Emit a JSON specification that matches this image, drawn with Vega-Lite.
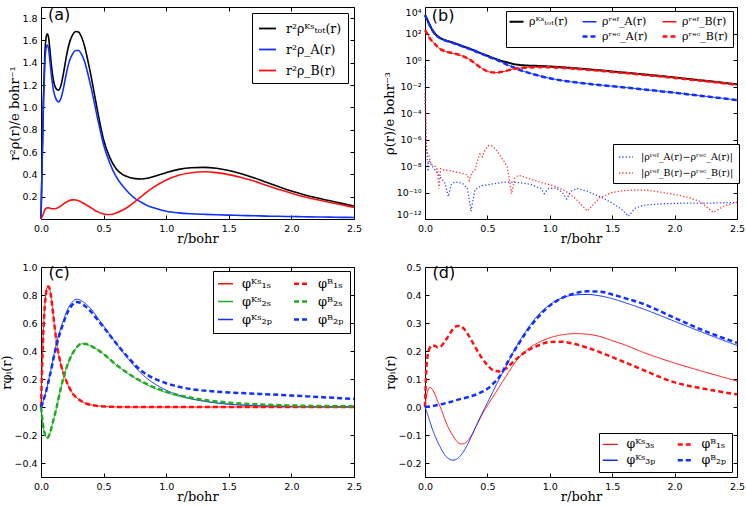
{
"$schema": "https://vega.github.io/schema/vega-lite/v6.json",
"padding": {"left": 0, "top": 6, "right": 0, "bottom": 0},
"background": "white",
"config": {
  "view": {"stroke": "black", "strokeWidth": 1},
  "axis": {"domain": false, "grid": false, "tickColor": "black", "tickSize": -4, "tickWidth": 1, "labelFont": "DejaVu Sans", "labelFontSize": 9.5, "labelColor": "black", "labelPadding": 8, "labelFlush": false, "labelOverlap": false, "titleFont": "DejaVu Serif", "titleFontSize": 13, "titleFontWeight": "normal", "titleColor": "black", "titlePadding": 0},
  "legend": {"strokeColor": "black", "fillColor": "white", "padding": 6, "labelFont": "DejaVu Serif", "labelFontSize": 13, "labelColor": "black", "symbolType": "stroke", "cornerRadius": 0}
},
"resolve": {"scale": {"color": "independent", "strokeDash": "independent"}},
"datasets": {
"a": [
{"r":0,"tot":0,"A":0,"B":0},
{"r":0.01,"tot":0.57,"A":0.55,"B":0.02},
{"r":0.02,"tot":1.1,"A":1.05,"B":0.05},
{"r":0.03,"tot":1.46,"A":1.38,"B":0.08},
{"r":0.04,"tot":1.62,"A":1.53,"B":0.095},
{"r":0.05,"tot":1.66,"A":1.56,"B":0.1},
{"r":0.06,"tot":1.63,"A":1.53,"B":0.1},
{"r":0.07,"tot":1.53,"A":1.43,"B":0.097},
{"r":0.08,"tot":1.41,"A":1.32,"B":0.094},
{"r":0.1,"tot":1.24,"A":1.15,"B":0.092},
{"r":0.12,"tot":1.17,"A":1.075,"B":0.094},
{"r":0.14,"tot":1.155,"A":1.05,"B":0.104},
{"r":0.16,"tot":1.2,"A":1.085,"B":0.118},
{"r":0.18,"tot":1.31,"A":1.175,"B":0.135},
{"r":0.2,"tot":1.44,"A":1.29,"B":0.15},
{"r":0.22,"tot":1.55,"A":1.39,"B":0.162},
{"r":0.25,"tot":1.645,"A":1.475,"B":0.171},
{"r":0.28,"tot":1.68,"A":1.51,"B":0.17},
{"r":0.3,"tot":1.675,"A":1.51,"B":0.163},
{"r":0.32,"tot":1.64,"A":1.485,"B":0.153},
{"r":0.35,"tot":1.54,"A":1.405,"B":0.135},
{"r":0.38,"tot":1.39,"A":1.275,"B":0.114},
{"r":0.4,"tot":1.28,"A":1.18,"B":0.1},
{"r":0.42,"tot":1.16,"A":1.075,"B":0.085},
{"r":0.45,"tot":0.98,"A":0.91,"B":0.066},
{"r":0.48,"tot":0.81,"A":0.76,"B":0.052},
{"r":0.5,"tot":0.71,"A":0.665,"B":0.045},
{"r":0.55,"tot":0.55,"A":0.5,"B":0.04},
{"r":0.6,"tot":0.45,"A":0.38,"B":0.053},
{"r":0.65,"tot":0.4,"A":0.3,"B":0.078},
{"r":0.7,"tot":0.375,"A":0.235,"B":0.112},
{"r":0.75,"tot":0.362,"A":0.185,"B":0.155},
{"r":0.8,"tot":0.358,"A":0.15,"B":0.2},
{"r":0.85,"tot":0.365,"A":0.12,"B":0.245},
{"r":0.9,"tot":0.38,"A":0.1,"B":0.285},
{"r":1.0,"tot":0.415,"A":0.07,"B":0.35},
{"r":1.1,"tot":0.445,"A":0.055,"B":0.393},
{"r":1.2,"tot":0.46,"A":0.047,"B":0.415},
{"r":1.3,"tot":0.463,"A":0.042,"B":0.423},
{"r":1.4,"tot":0.455,"A":0.038,"B":0.416},
{"r":1.5,"tot":0.435,"A":0.035,"B":0.398},
{"r":1.6,"tot":0.405,"A":0.032,"B":0.372},
{"r":1.7,"tot":0.37,"A":0.029,"B":0.34},
{"r":1.8,"tot":0.33,"A":0.026,"B":0.302},
{"r":1.9,"tot":0.29,"A":0.024,"B":0.265},
{"r":2.0,"tot":0.25,"A":0.022,"B":0.23},
{"r":2.1,"tot":0.218,"A":0.02,"B":0.2},
{"r":2.2,"tot":0.19,"A":0.018,"B":0.174},
{"r":2.3,"tot":0.165,"A":0.017,"B":0.15},
{"r":2.4,"tot":0.14,"A":0.015,"B":0.127},
{"r":2.5,"tot":0.117,"A":0.014,"B":0.104}
],
"b": [
{"r":0,"tot":2500,"Aref":2400,"Arec":2400,"Bref":178,"Brec":178},
{"r":0.02,"tot":1000,"Aref":955,"Arec":955,"Bref":89,"Brec":89},
{"r":0.04,"tot":398,"Aref":380,"Arec":380,"Bref":41.7,"Brec":41.7},
{"r":0.06,"tot":178,"Aref":170,"Arec":170,"Bref":24,"Brec":24},
{"r":0.08,"tot":95.5,"Aref":91.2,"Arec":91.2,"Bref":15.8,"Brec":15.8},
{"r":0.1,"tot":63.1,"Aref":60.3,"Arec":60.3,"Bref":10,"Brec":10},
{"r":0.13,"tot":41.7,"Aref":39.8,"Arec":39.8,"Bref":6.03,"Brec":6.03},
{"r":0.16,"tot":31.6,"Aref":30.2,"Arec":30.2,"Bref":4.57,"Brec":4.57},
{"r":0.2,"tot":24,"Aref":22.9,"Arec":22.9,"Bref":3.63,"Brec":3.63},
{"r":0.25,"tot":16.6,"Aref":15.8,"Arec":15.8,"Bref":2.82,"Brec":2.82},
{"r":0.3,"tot":11.2,"Aref":10.7,"Arec":10.7,"Bref":2,"Brec":2},
{"r":0.35,"tot":7.59,"Aref":7.24,"Arec":7.24,"Bref":1.2,"Brec":1.2},
{"r":0.4,"tot":5.01,"Aref":4.79,"Arec":4.79,"Bref":0.562,"Brec":0.562},
{"r":0.45,"tot":3.16,"Aref":3.02,"Arec":3.02,"Bref":0.251,"Brec":0.251},
{"r":0.5,"tot":2.09,"Aref":1.91,"Arec":1.91,"Bref":0.141,"Brec":0.141},
{"r":0.55,"tot":1.38,"Aref":1.26,"Arec":1.26,"Bref":0.112,"Brec":0.112},
{"r":0.6,"tot":0.955,"Aref":0.794,"Arec":0.794,"Bref":0.12,"Brec":0.12},
{"r":0.65,"tot":0.692,"Aref":0.479,"Arec":0.479,"Bref":0.151,"Brec":0.151},
{"r":0.7,"tot":0.525,"Aref":0.302,"Arec":0.302,"Bref":0.2,"Brec":0.2},
{"r":0.75,"tot":0.43,"Aref":0.191,"Arec":0.191,"Bref":0.24,"Brec":0.24},
{"r":0.8,"tot":0.39,"Aref":0.132,"Arec":0.132,"Bref":0.26,"Brec":0.26},
{"r":0.9,"tot":0.36,"Aref":0.0708,"Arec":0.0708,"Bref":0.29,"Brec":0.29},
{"r":1.0,"tot":0.322,"Aref":0.0417,"Arec":0.0417,"Bref":0.28,"Brec":0.28},
{"r":1.1,"tot":0.283,"Aref":0.0282,"Arec":0.0282,"Bref":0.255,"Brec":0.255},
{"r":1.2,"tot":0.241,"Aref":0.0209,"Arec":0.0209,"Bref":0.22,"Brec":0.22},
{"r":1.3,"tot":0.201,"Aref":0.0162,"Arec":0.0162,"Bref":0.185,"Brec":0.185},
{"r":1.4,"tot":0.168,"Aref":0.0129,"Arec":0.0129,"Bref":0.155,"Brec":0.155},
{"r":1.5,"tot":0.136,"Aref":0.0105,"Arec":0.0105,"Bref":0.126,"Brec":0.126},
{"r":1.6,"tot":0.112,"Aref":0.00851,"Arec":0.00851,"Bref":0.104,"Brec":0.104},
{"r":1.7,"tot":0.0912,"Aref":0.00676,"Arec":0.00676,"Bref":0.085,"Brec":0.085},
{"r":1.8,"tot":0.0741,"Aref":0.00537,"Arec":0.00537,"Bref":0.069,"Brec":0.069},
{"r":1.9,"tot":0.0603,"Aref":0.00427,"Arec":0.00427,"Bref":0.056,"Brec":0.056},
{"r":2.0,"tot":0.0479,"Aref":0.00339,"Arec":0.00339,"Bref":0.0445,"Brec":0.0445},
{"r":2.1,"tot":0.038,"Aref":0.00263,"Arec":0.00263,"Bref":0.0353,"Brec":0.0353},
{"r":2.2,"tot":0.0302,"Aref":0.00204,"Arec":0.00204,"Bref":0.0281,"Brec":0.0281},
{"r":2.3,"tot":0.024,"Aref":0.00158,"Arec":0.00158,"Bref":0.0223,"Brec":0.0223},
{"r":2.4,"tot":0.0186,"Aref":0.00123,"Arec":0.00123,"Bref":0.0173,"Brec":0.0173},
{"r":2.5,"tot":0.0145,"Aref":0.000933,"Arec":0.000933,"Bref":0.0135,"Brec":0.0135}
],
"bd": [
{"d":"dA","r":0,"v":0.316},
{"d":"dA","r":0.004,"v":3.16e-4},
{"d":"dA","r":0.008,"v":3.16e-6},
{"d":"dA","r":0.012,"v":2.5e-7},
{"d":"dA","r":0.018,"v":4e-8},
{"d":"dA","r":0.024,"v":4e-9},
{"d":"dA","r":0.03,"v":2.5e-8},
{"d":"dA","r":0.05,"v":1.26e-8},
{"d":"dA","r":0.08,"v":5e-9},
{"d":"dA","r":0.12,"v":1.6e-9},
{"d":"dA","r":0.16,"v":5e-10},
{"d":"dA","r":0.187,"v":5e-11},
{"d":"dA","r":0.21,"v":4e-10},
{"d":"dA","r":0.24,"v":6.3e-10},
{"d":"dA","r":0.3,"v":5e-10},
{"d":"dA","r":0.34,"v":2e-10},
{"d":"dA","r":0.369,"v":4e-12},
{"d":"dA","r":0.4,"v":1.6e-10},
{"d":"dA","r":0.45,"v":3.2e-10},
{"d":"dA","r":0.55,"v":4.5e-10},
{"d":"dA","r":0.65,"v":6.3e-10},
{"d":"dA","r":0.75,"v":5.6e-10},
{"d":"dA","r":0.85,"v":4e-10},
{"d":"dA","r":0.93,"v":2e-10},
{"d":"dA","r":0.955,"v":8e-11},
{"d":"dA","r":0.99,"v":2e-10},
{"d":"dA","r":1.05,"v":2.2e-10},
{"d":"dA","r":1.1,"v":1e-10},
{"d":"dA","r":1.135,"v":3.2e-11},
{"d":"dA","r":1.17,"v":1.26e-10},
{"d":"dA","r":1.22,"v":2e-10},
{"d":"dA","r":1.3,"v":1.26e-10},
{"d":"dA","r":1.4,"v":5e-11},
{"d":"dA","r":1.5,"v":1.6e-11},
{"d":"dA","r":1.58,"v":5e-12},
{"d":"dA","r":1.63,"v":1.6e-12},
{"d":"dA","r":1.68,"v":6.3e-12},
{"d":"dA","r":1.75,"v":1.1e-11},
{"d":"dA","r":1.9,"v":1.4e-11},
{"d":"dA","r":2.1,"v":1.6e-11},
{"d":"dA","r":2.3,"v":1.6e-11},
{"d":"dA","r":2.5,"v":1.8e-11},
{"d":"dB","r":0,"v":3.16e-3},
{"d":"dB","r":0.004,"v":3.16e-5},
{"d":"dB","r":0.008,"v":1e-6},
{"d":"dB","r":0.015,"v":1.26e-7},
{"d":"dB","r":0.03,"v":6.3e-8},
{"d":"dB","r":0.05,"v":1.26e-8},
{"d":"dB","r":0.08,"v":1e-8},
{"d":"dB","r":0.1,"v":5e-9},
{"d":"dB","r":0.112,"v":2e-10},
{"d":"dB","r":0.125,"v":6.3e-9},
{"d":"dB","r":0.15,"v":5e-9},
{"d":"dB","r":0.2,"v":4.5e-9},
{"d":"dB","r":0.25,"v":3.5e-9},
{"d":"dB","r":0.3,"v":2.8e-9},
{"d":"dB","r":0.34,"v":2e-9},
{"d":"dB","r":0.355,"v":8e-10},
{"d":"dB","r":0.375,"v":3.2e-9},
{"d":"dB","r":0.4,"v":5e-9},
{"d":"dB","r":0.42,"v":2.5e-8},
{"d":"dB","r":0.44,"v":8e-8},
{"d":"dB","r":0.46,"v":5e-8},
{"d":"dB","r":0.48,"v":1.6e-7},
{"d":"dB","r":0.51,"v":3.5e-7},
{"d":"dB","r":0.54,"v":3.2e-7},
{"d":"dB","r":0.56,"v":2e-7},
{"d":"dB","r":0.58,"v":1.26e-7},
{"d":"dB","r":0.6,"v":6.3e-8},
{"d":"dB","r":0.63,"v":2.5e-8},
{"d":"dB","r":0.66,"v":8e-9},
{"d":"dB","r":0.694,"v":8e-11},
{"d":"dB","r":0.72,"v":1.26e-9},
{"d":"dB","r":0.75,"v":2e-9},
{"d":"dB","r":0.85,"v":1e-9},
{"d":"dB","r":0.95,"v":5e-10},
{"d":"dB","r":1.05,"v":2.8e-10},
{"d":"dB","r":1.12,"v":1.4e-10},
{"d":"dB","r":1.2,"v":4e-11},
{"d":"dB","r":1.3,"v":4e-12},
{"d":"dB","r":1.4,"v":4e-11},
{"d":"dB","r":1.5,"v":1e-10},
{"d":"dB","r":1.6,"v":1.4e-10},
{"d":"dB","r":1.7,"v":1.6e-10},
{"d":"dB","r":1.8,"v":1.4e-10},
{"d":"dB","r":1.9,"v":1e-10},
{"d":"dB","r":2.0,"v":7e-11},
{"d":"dB","r":2.1,"v":4.5e-11},
{"d":"dB","r":2.2,"v":2.2e-11},
{"d":"dB","r":2.31,"v":3.2e-12},
{"d":"dB","r":2.4,"v":1e-11},
{"d":"dB","r":2.5,"v":1.8e-11}
],
"c": [
{"r":0,"s1KS":0,"s2KS":0,"p2KS":0,"s1B":0,"s2B":0,"p2B":0},
{"r":0.01,"s1KS":0.32,"s2KS":-0.08,"p2KS":0.02,"s1B":0.32,"s2B":-0.08,"p2B":0.02},
{"r":0.02,"s1KS":0.56,"s2KS":-0.15,"p2KS":0.05,"s1B":0.56,"s2B":-0.15,"p2B":0.048},
{"r":0.03,"s1KS":0.72,"s2KS":-0.19,"p2KS":0.08,"s1B":0.72,"s2B":-0.19,"p2B":0.077},
{"r":0.04,"s1KS":0.81,"s2KS":-0.213,"p2KS":0.115,"s1B":0.81,"s2B":-0.213,"p2B":0.11},
{"r":0.05,"s1KS":0.855,"s2KS":-0.222,"p2KS":0.15,"s1B":0.855,"s2B":-0.222,"p2B":0.145},
{"r":0.06,"s1KS":0.86,"s2KS":-0.212,"p2KS":0.19,"s1B":0.86,"s2B":-0.212,"p2B":0.183},
{"r":0.07,"s1KS":0.84,"s2KS":-0.19,"p2KS":0.23,"s1B":0.84,"s2B":-0.19,"p2B":0.222},
{"r":0.08,"s1KS":0.79,"s2KS":-0.16,"p2KS":0.27,"s1B":0.79,"s2B":-0.16,"p2B":0.26},
{"r":0.1,"s1KS":0.64,"s2KS":-0.09,"p2KS":0.36,"s1B":0.64,"s2B":-0.09,"p2B":0.348},
{"r":0.12,"s1KS":0.49,"s2KS":-0.02,"p2KS":0.44,"s1B":0.49,"s2B":-0.02,"p2B":0.425},
{"r":0.14,"s1KS":0.38,"s2KS":0.06,"p2KS":0.51,"s1B":0.38,"s2B":0.06,"p2B":0.493},
{"r":0.16,"s1KS":0.3,"s2KS":0.14,"p2KS":0.57,"s1B":0.3,"s2B":0.14,"p2B":0.552},
{"r":0.18,"s1KS":0.24,"s2KS":0.21,"p2KS":0.62,"s1B":0.24,"s2B":0.21,"p2B":0.602},
{"r":0.2,"s1KS":0.19,"s2KS":0.27,"p2KS":0.67,"s1B":0.19,"s2B":0.27,"p2B":0.65},
{"r":0.22,"s1KS":0.15,"s2KS":0.32,"p2KS":0.71,"s1B":0.15,"s2B":0.32,"p2B":0.69},
{"r":0.25,"s1KS":0.1,"s2KS":0.38,"p2KS":0.75,"s1B":0.1,"s2B":0.38,"p2B":0.73},
{"r":0.28,"s1KS":0.07,"s2KS":0.42,"p2KS":0.77,"s1B":0.07,"s2B":0.42,"p2B":0.75},
{"r":0.3,"s1KS":0.055,"s2KS":0.44,"p2KS":0.768,"s1B":0.055,"s2B":0.44,"p2B":0.748},
{"r":0.33,"s1KS":0.038,"s2KS":0.452,"p2KS":0.755,"s1B":0.038,"s2B":0.452,"p2B":0.735},
{"r":0.36,"s1KS":0.025,"s2KS":0.45,"p2KS":0.735,"s1B":0.025,"s2B":0.45,"p2B":0.715},
{"r":0.4,"s1KS":0.015,"s2KS":0.435,"p2KS":0.7,"s1B":0.015,"s2B":0.435,"p2B":0.68},
{"r":0.45,"s1KS":0.008,"s2KS":0.41,"p2KS":0.64,"s1B":0.008,"s2B":0.41,"p2B":0.625},
{"r":0.5,"s1KS":0.004,"s2KS":0.378,"p2KS":0.58,"s1B":0.004,"s2B":0.378,"p2B":0.57},
{"r":0.6,"s1KS":0.001,"s2KS":0.3,"p2KS":0.455,"s1B":0.001,"s2B":0.302,"p2B":0.455},
{"r":0.7,"s1KS":0,"s2KS":0.235,"p2KS":0.34,"s1B":0,"s2B":0.238,"p2B":0.35},
{"r":0.8,"s1KS":0,"s2KS":0.18,"p2KS":0.24,"s1B":0,"s2B":0.184,"p2B":0.26},
{"r":0.9,"s1KS":0,"s2KS":0.137,"p2KS":0.17,"s1B":0,"s2B":0.142,"p2B":0.205},
{"r":1.0,"s1KS":0,"s2KS":0.103,"p2KS":0.12,"s1B":0,"s2B":0.11,"p2B":0.17},
{"r":1.1,"s1KS":0,"s2KS":0.077,"p2KS":0.085,"s1B":0,"s2B":0.085,"p2B":0.145},
{"r":1.2,"s1KS":0,"s2KS":0.057,"p2KS":0.06,"s1B":0,"s2B":0.066,"p2B":0.128},
{"r":1.3,"s1KS":0,"s2KS":0.042,"p2KS":0.042,"s1B":0,"s2B":0.051,"p2B":0.117},
{"r":1.4,"s1KS":0,"s2KS":0.03,"p2KS":0.029,"s1B":0,"s2B":0.04,"p2B":0.11},
{"r":1.5,"s1KS":0,"s2KS":0.021,"p2KS":0.02,"s1B":0,"s2B":0.031,"p2B":0.104},
{"r":1.75,"s1KS":0,"s2KS":0.01,"p2KS":0.008,"s1B":0,"s2B":0.018,"p2B":0.093},
{"r":2.0,"s1KS":0,"s2KS":0.005,"p2KS":0.003,"s1B":0,"s2B":0.011,"p2B":0.082},
{"r":2.25,"s1KS":0,"s2KS":0.002,"p2KS":0.001,"s1B":0,"s2B":0.007,"p2B":0.07},
{"r":2.5,"s1KS":0,"s2KS":0.001,"p2KS":0,"s1B":0,"s2B":0.005,"p2B":0.058}
],
"d": [
{"r":0,"s3KS":0,"p3KS":0,"s1B":0,"p2B":0},
{"r":0.01,"s3KS":0.035,"p3KS":-0.012,"s1B":0.13,"p2B":0.0005},
{"r":0.02,"s3KS":0.055,"p3KS":-0.025,"s1B":0.18,"p2B":0.001},
{"r":0.04,"s3KS":0.07,"p3KS":-0.053,"s1B":0.212,"p2B":0.002},
{"r":0.06,"s3KS":0.062,"p3KS":-0.08,"s1B":0.22,"p2B":0.003},
{"r":0.08,"s3KS":0.045,"p3KS":-0.103,"s1B":0.218,"p2B":0.005},
{"r":0.1,"s3KS":0.022,"p3KS":-0.123,"s1B":0.213,"p2B":0.007},
{"r":0.13,"s3KS":-0.008,"p3KS":-0.15,"s1B":0.218,"p2B":0.01},
{"r":0.16,"s3KS":-0.045,"p3KS":-0.172,"s1B":0.235,"p2B":0.013},
{"r":0.2,"s3KS":-0.085,"p3KS":-0.187,"s1B":0.262,"p2B":0.018},
{"r":0.22,"s3KS":-0.1,"p3KS":-0.19,"s1B":0.276,"p2B":0.02},
{"r":0.25,"s3KS":-0.12,"p3KS":-0.187,"s1B":0.288,"p2B":0.024},
{"r":0.28,"s3KS":-0.131,"p3KS":-0.176,"s1B":0.29,"p2B":0.028},
{"r":0.3,"s3KS":-0.132,"p3KS":-0.165,"s1B":0.285,"p2B":0.03},
{"r":0.34,"s3KS":-0.122,"p3KS":-0.135,"s1B":0.262,"p2B":0.035},
{"r":0.38,"s3KS":-0.095,"p3KS":-0.097,"s1B":0.232,"p2B":0.04},
{"r":0.42,"s3KS":-0.06,"p3KS":-0.058,"s1B":0.2,"p2B":0.047},
{"r":0.46,"s3KS":-0.025,"p3KS":-0.02,"s1B":0.172,"p2B":0.055},
{"r":0.5,"s3KS":0.005,"p3KS":0.015,"s1B":0.15,"p2B":0.065},
{"r":0.55,"s3KS":0.04,"p3KS":0.06,"s1B":0.13,"p2B":0.085},
{"r":0.6,"s3KS":0.075,"p3KS":0.105,"s1B":0.127,"p2B":0.11},
{"r":0.65,"s3KS":0.11,"p3KS":0.145,"s1B":0.138,"p2B":0.15},
{"r":0.7,"s3KS":0.145,"p3KS":0.19,"s1B":0.158,"p2B":0.19},
{"r":0.75,"s3KS":0.175,"p3KS":0.23,"s1B":0.178,"p2B":0.225},
{"r":0.8,"s3KS":0.198,"p3KS":0.265,"s1B":0.195,"p2B":0.26},
{"r":0.9,"s3KS":0.228,"p3KS":0.325,"s1B":0.218,"p2B":0.318},
{"r":1.0,"s3KS":0.247,"p3KS":0.365,"s1B":0.232,"p2B":0.362},
{"r":1.1,"s3KS":0.258,"p3KS":0.39,"s1B":0.233,"p2B":0.39},
{"r":1.2,"s3KS":0.262,"p3KS":0.4,"s1B":0.225,"p2B":0.406},
{"r":1.3,"s3KS":0.26,"p3KS":0.402,"s1B":0.212,"p2B":0.413},
{"r":1.4,"s3KS":0.252,"p3KS":0.397,"s1B":0.196,"p2B":0.412},
{"r":1.5,"s3KS":0.237,"p3KS":0.387,"s1B":0.178,"p2B":0.402},
{"r":1.6,"s3KS":0.222,"p3KS":0.373,"s1B":0.16,"p2B":0.389},
{"r":1.75,"s3KS":0.195,"p3KS":0.35,"s1B":0.132,"p2B":0.368},
{"r":2.0,"s3KS":0.157,"p3KS":0.306,"s1B":0.088,"p2B":0.318},
{"r":2.25,"s3KS":0.124,"p3KS":0.262,"s1B":0.064,"p2B":0.27},
{"r":2.5,"s3KS":0.093,"p3KS":0.22,"s1B":0.045,"p2B":0.229}
]
},
"columns": 2,
"spacing": {"row": 48, "column": 71},
"bounds": "flush",
"align": "each",
"concat": [
{
 "width": 313, "height": 212,
 "layer": [
  {
   "data": {"name": "a"},
   "transform": [{"fold": ["tot", "A", "B"], "as": ["s", "v"]}],
   "mark": {"type": "line", "strokeWidth": 1.6, "interpolate": "monotone"},
   "encoding": {
    "x": {"field": "r", "type": "quantitative", "scale": {"domain": [0, 2.5]}, "axis": {"values": [0, 0.5, 1, 1.5, 2, 2.5], "format": ".1f", "title": "r/bohr"}},
    "y": {"field": "v", "type": "quantitative", "scale": {"domain": [0, 1.9]}, "axis": {"values": [0.2, 0.4, 0.6, 0.8, 1, 1.2, 1.4, 1.6, 1.8], "format": ".1f", "title": "r²ρ(r)/e bohr⁻¹"}},
    "color": {"field": "s", "type": "nominal", "scale": {"domain": ["tot", "A", "B"], "range": ["#000000", "#1030ff", "#ff1010"]},
     "legend": {"title": null, "orient": "top-right", "offset": 6, "padding": 6, "symbolSize": 289, "symbolStrokeWidth": 1.8, "labelOffset": 9, "rowPadding": 5, "labelFontSize": 12.5,
      "labelExpr": "datum.label == 'tot' ? 'r²ρᴷˢₜₒₜ(r)' : datum.label == 'A' ? 'r²ρ_A(r)' : 'r²ρ_B(r)'"}}
   }
  },
  {
   "data": {"values": [{"label": "(a)"}]},
   "mark": {"type": "text", "align": "left", "baseline": "middle", "fontSize": 16, "font": "DejaVu Sans", "color": "black"},
   "encoding": {
    "x": {"datum": 0.055, "type": "quantitative", "scale": {"domain": [0, 2.5]}, "axis": {"orient": "top", "labels": false, "title": null, "values": [0, 0.5, 1, 1.5, 2, 2.5]}},
    "y": {"datum": 1.83, "type": "quantitative", "scale": {"domain": [0, 1.9]}, "axis": {"orient": "right", "labels": false, "title": null, "values": [0.2, 0.4, 0.6, 0.8, 1, 1.2, 1.4, 1.6, 1.8]}},
    "text": {"field": "label"}
   }
  }
 ],
 "resolve": {"axis": {"x": "independent", "y": "independent"}}
},
{
 "width": 312, "height": 212,
 "layer": [
  {
   "data": {"name": "b"},
   "transform": [{"fold": ["tot", "Aref", "Arec", "Bref", "Brec"], "as": ["s", "v"]}],
   "mark": {"type": "line", "interpolate": "monotone"},
   "encoding": {
    "x": {"field": "r", "type": "quantitative", "scale": {"domain": [0, 2.5]}, "axis": {"values": [0, 0.5, 1, 1.5, 2, 2.5], "format": ".1f", "title": "r/bohr"}},
    "y": {"field": "v", "type": "quantitative", "scale": {"type": "log", "domain": [1e-12, 10000]}, "axis": {"values": [1e-12, 1e-10, 1e-8, 1e-6, 1e-4, 0.01, 1, 100, 10000], "title": "ρ(r)/e bohr⁻³", "labelFlush": true,
      "labelExpr": "datum.value >= 9999 ? '10⁴' : datum.value >= 99 ? '10²' : datum.value >= 0.99 ? '10⁰' : datum.value >= 0.0099 ? '10⁻²' : datum.value >= 9.9e-5 ? '10⁻⁴' : datum.value >= 9.9e-7 ? '10⁻⁶' : datum.value >= 9.9e-9 ? '10⁻⁸' : datum.value >= 9.9e-11 ? '10⁻¹⁰' : '10⁻¹²'"}},
    "color": {"field": "s", "type": "nominal", "scale": {"domain": ["tot", "blank", "Aref", "Arec", "Bref", "Brec"], "range": ["#000000", "rgba(0,0,0,0)", "#1030ff", "#1030ff", "#ff1010", "#ff1010"]},
     "legend": {"title": null, "orient": "top-right", "offset": 4, "columns": 3, "columnPadding": 9, "padding": 5, "symbolSize": 196, "labelOffset": 7, "rowPadding": 3, "labelFontSize": 11,
      "labelExpr": "datum.label == 'tot' ? 'ρᴷˢₜₒₜ(r)' : datum.label == 'Aref' ? 'ρʳᵉᶠ_A(r)' : datum.label == 'Arec' ? 'ρʳᵉᶜ_A(r)' : datum.label == 'Bref' ? 'ρʳᵉᶠ_B(r)' : datum.label == 'Brec' ? 'ρʳᵉᶜ_B(r)' : ''",
      "encode": {"symbols": {"update": {"strokeWidth": {"signal": "datum.value == 'tot' ? 2 : (datum.value == 'Arec' || datum.value == 'Brec') ? 2.5 : 1.4"}, "stroke": {"signal": "datum.value == 'tot' ? '#000000' : datum.value == 'blank' ? 'rgba(0,0,0,0)' : (datum.value == 'Aref' || datum.value == 'Arec') ? '#1030ff' : '#ff1010'"}}}}}},
    "strokeDash": {"field": "s", "type": "nominal", "scale": {"domain": ["tot", "blank", "Aref", "Arec", "Bref", "Brec"], "range": [[1, 0], [1, 0], [1, 0], [5, 3], [1, 0], [5, 3]]},
     "legend": {"title": null, "orient": "top-right", "offset": 4, "columns": 3, "columnPadding": 9, "padding": 5, "symbolSize": 196, "labelOffset": 7, "rowPadding": 3, "labelFontSize": 11,
      "labelExpr": "datum.label == 'tot' ? 'ρᴷˢₜₒₜ(r)' : datum.label == 'Aref' ? 'ρʳᵉᶠ_A(r)' : datum.label == 'Arec' ? 'ρʳᵉᶜ_A(r)' : datum.label == 'Bref' ? 'ρʳᵉᶠ_B(r)' : datum.label == 'Brec' ? 'ρʳᵉᶜ_B(r)' : ''",
      "encode": {"symbols": {"update": {"strokeWidth": {"signal": "datum.value == 'tot' ? 2 : (datum.value == 'Arec' || datum.value == 'Brec') ? 2.5 : 1.4"}, "stroke": {"signal": "datum.value == 'tot' ? '#000000' : datum.value == 'blank' ? 'rgba(0,0,0,0)' : (datum.value == 'Aref' || datum.value == 'Arec') ? '#1030ff' : '#ff1010'"}}}}}},
    "strokeWidth": {"condition": [{"test": "datum.s == 'tot'", "value": 2}, {"test": "datum.s == 'Arec' || datum.s == 'Brec'", "value": 2.5}], "value": 1}
   }
  },
  {
   "data": {"name": "bd"},
   "mark": {"type": "line", "strokeWidth": 1.3, "strokeDash": [1.3, 2], "opacity": 0.85},
   "encoding": {
    "x": {"field": "r", "type": "quantitative", "scale": {"domain": [0, 2.5]}, "axis": null},
    "y": {"field": "v", "type": "quantitative", "scale": {"type": "log", "domain": [1e-12, 10000]}, "axis": null},
    "color": {"field": "d", "type": "nominal", "scale": {"domain": ["dA", "dB"], "range": ["#1030ff", "#ff1010"]},
     "legend": {"title": null, "orient": "none", "legendX": 188, "legendY": 137, "padding": 5, "symbolSize": 196, "symbolStrokeWidth": 1.3, "symbolDash": [1.3, 2], "labelOffset": 7, "rowPadding": 3, "labelFontSize": 9.5,
      "labelExpr": "datum.label == 'dA' ? '|ρʳᵉᶠ_A(r)−ρʳᵉᶜ_A(r)|' : '|ρʳᵉᶠ_B(r)−ρʳᵉᶜ_B(r)|'"}}
   }
  },
  {
   "data": {"values": [{"label": "(b)"}]},
   "mark": {"type": "text", "align": "left", "baseline": "middle", "fontSize": 16, "font": "DejaVu Sans", "color": "black"},
   "encoding": {
    "x": {"datum": 0.054, "type": "quantitative", "scale": {"domain": [0, 2.5]}, "axis": {"orient": "top", "labels": false, "title": null, "values": [0, 0.5, 1, 1.5, 2, 2.5]}},
    "y": {"datum": 2100, "type": "quantitative", "scale": {"type": "log", "domain": [1e-12, 10000]}, "axis": {"orient": "right", "labels": false, "title": null, "values": [1e-12, 1e-10, 1e-8, 1e-6, 1e-4, 0.01, 1, 100, 10000]}},
    "text": {"field": "label"}
   }
  }
 ],
 "resolve": {"scale": {"color": "independent", "strokeDash": "independent"}, "axis": {"x": "independent", "y": "independent"}}
},
{
 "width": 313, "height": 210,
 "layer": [
  {
   "data": {"name": "c"},
   "transform": [{"fold": ["s1KS", "s2KS", "p2KS", "s1B", "s2B", "p2B"], "as": ["s", "v"]}],
   "mark": {"type": "line", "interpolate": "monotone"},
   "encoding": {
    "x": {"field": "r", "type": "quantitative", "scale": {"domain": [0, 2.5]}, "axis": {"values": [0, 0.5, 1, 1.5, 2, 2.5], "format": ".1f", "title": "r/bohr"}},
    "y": {"field": "v", "type": "quantitative", "scale": {"domain": [-0.5, 1.0]}, "axis": {"values": [-0.4, -0.2, 0, 0.2, 0.4, 0.6, 0.8, 1.0], "format": ".1f", "title": "rφᵢ(r)"}},
    "color": {"field": "s", "type": "nominal", "scale": {"domain": ["s1KS", "s2KS", "p2KS", "s1B", "s2B", "p2B"], "range": ["#ff1010", "#22aa22", "#1030ff", "#ff1010", "#22aa22", "#1030ff"]},
     "legend": {"title": null, "orient": "top-right", "offset": 4, "columns": 2, "columnPadding": 16, "padding": 6, "symbolSize": 225, "labelOffset": 10, "rowPadding": 4, "labelFontSize": 13,
      "labelExpr": "datum.label == 's1KS' ? 'φᴷˢ₁ₛ' : datum.label == 's2KS' ? 'φᴷˢ₂ₛ' : datum.label == 'p2KS' ? 'φᴷˢ₂ₚ' : datum.label == 's1B' ? 'φᴮ₁ₛ' : datum.label == 's2B' ? 'φᴮ₂ₛ' : 'φᴮ₂ₚ'",
      "encode": {"symbols": {"update": {"strokeWidth": {"signal": "(datum.value == 's1B' || datum.value == 's2B' || datum.value == 'p2B') ? 2.5 : 1.4"}, "stroke": {"signal": "(datum.value == 's1KS' || datum.value == 's1B') ? '#ff1010' : (datum.value == 's2KS' || datum.value == 's2B') ? '#22aa22' : '#1030ff'"}}}}}},
    "strokeDash": {"field": "s", "type": "nominal", "scale": {"domain": ["s1KS", "s2KS", "p2KS", "s1B", "s2B", "p2B"], "range": [[1, 0], [1, 0], [1, 0], [5, 3], [5, 3], [5, 3]]},
     "legend": {"title": null, "orient": "top-right", "offset": 4, "columns": 2, "columnPadding": 16, "padding": 6, "symbolSize": 225, "labelOffset": 10, "rowPadding": 4, "labelFontSize": 13,
      "labelExpr": "datum.label == 's1KS' ? 'φᴷˢ₁ₛ' : datum.label == 's2KS' ? 'φᴷˢ₂ₛ' : datum.label == 'p2KS' ? 'φᴷˢ₂ₚ' : datum.label == 's1B' ? 'φᴮ₁ₛ' : datum.label == 's2B' ? 'φᴮ₂ₛ' : 'φᴮ₂ₚ'",
      "encode": {"symbols": {"update": {"strokeWidth": {"signal": "(datum.value == 's1B' || datum.value == 's2B' || datum.value == 'p2B') ? 2.5 : 1.4"}, "stroke": {"signal": "(datum.value == 's1KS' || datum.value == 's1B') ? '#ff1010' : (datum.value == 's2KS' || datum.value == 's2B') ? '#22aa22' : '#1030ff'"}}}}}},
    "strokeWidth": {"condition": {"test": "datum.s == 's1B' || datum.s == 's2B' || datum.s == 'p2B'", "value": 2.5}, "value": 1}
   }
  },
  {
   "data": {"values": [{"label": "(c)"}]},
   "mark": {"type": "text", "align": "left", "baseline": "middle", "fontSize": 16, "font": "DejaVu Sans", "color": "black"},
   "encoding": {
    "x": {"datum": 0.06, "type": "quantitative", "scale": {"domain": [0, 2.5]}, "axis": {"orient": "top", "labels": false, "title": null, "values": [0, 0.5, 1, 1.5, 2, 2.5]}},
    "y": {"datum": 0.955, "type": "quantitative", "scale": {"domain": [-0.5, 1.0]}, "axis": {"orient": "right", "labels": false, "title": null, "values": [-0.4, -0.2, 0, 0.2, 0.4, 0.6, 0.8, 1.0]}},
    "text": {"field": "label"}
   }
  }
 ],
 "resolve": {"axis": {"x": "independent", "y": "independent"}}
},
{
 "width": 312, "height": 210,
 "layer": [
  {
   "data": {"name": "d"},
   "transform": [{"fold": ["s3KS", "p3KS", "s1B", "p2B"], "as": ["s", "v"]}],
   "mark": {"type": "line", "interpolate": "monotone"},
   "encoding": {
    "x": {"field": "r", "type": "quantitative", "scale": {"domain": [0, 2.5]}, "axis": {"values": [0, 0.5, 1, 1.5, 2, 2.5], "format": ".1f", "title": "r/bohr"}},
    "y": {"field": "v", "type": "quantitative", "scale": {"domain": [-0.25, 0.5]}, "axis": {"values": [-0.2, -0.1, 0, 0.1, 0.2, 0.3, 0.4, 0.5], "format": ".1f", "title": "rφᵢ(r)"}},
    "color": {"field": "s", "type": "nominal", "scale": {"domain": ["s3KS", "p3KS", "s1B", "p2B"], "range": ["#ff1010", "#1030ff", "#ff1010", "#1030ff"]},
     "legend": {"title": null, "orient": "bottom-right", "offset": 5, "columns": 2, "columnPadding": 16, "padding": 5, "symbolSize": 225, "labelOffset": 10, "rowPadding": 3, "labelFontSize": 12.5,
      "labelExpr": "datum.label == 's3KS' ? 'φᴷˢ₃ₛ' : datum.label == 'p3KS' ? 'φᴷˢ₃ₚ' : datum.label == 's1B' ? 'φᴮ₁ₛ' : 'φᴮ₂ₚ'",
      "encode": {"symbols": {"update": {"strokeWidth": {"signal": "(datum.value == 's1B' || datum.value == 'p2B') ? 2.5 : 1.4"}, "stroke": {"signal": "(datum.value == 's3KS' || datum.value == 's1B') ? '#ff1010' : '#1030ff'"}}}}}},
    "strokeDash": {"field": "s", "type": "nominal", "scale": {"domain": ["s3KS", "p3KS", "s1B", "p2B"], "range": [[1, 0], [1, 0], [5, 3], [5, 3]]},
     "legend": {"title": null, "orient": "bottom-right", "offset": 5, "columns": 2, "columnPadding": 16, "padding": 5, "symbolSize": 225, "labelOffset": 10, "rowPadding": 3, "labelFontSize": 12.5,
      "labelExpr": "datum.label == 's3KS' ? 'φᴷˢ₃ₛ' : datum.label == 'p3KS' ? 'φᴷˢ₃ₚ' : datum.label == 's1B' ? 'φᴮ₁ₛ' : 'φᴮ₂ₚ'",
      "encode": {"symbols": {"update": {"strokeWidth": {"signal": "(datum.value == 's1B' || datum.value == 'p2B') ? 2.5 : 1.4"}, "stroke": {"signal": "(datum.value == 's3KS' || datum.value == 's1B') ? '#ff1010' : '#1030ff'"}}}}}},
    "strokeWidth": {"condition": {"test": "datum.s == 's1B' || datum.s == 'p2B'", "value": 2.5}, "value": 1}
   }
  },
  {
   "data": {"values": [{"label": "(d)"}]},
   "mark": {"type": "text", "align": "left", "baseline": "middle", "fontSize": 16, "font": "DejaVu Sans", "color": "black"},
   "encoding": {
    "x": {"datum": 0.06, "type": "quantitative", "scale": {"domain": [0, 2.5]}, "axis": {"orient": "top", "labels": false, "title": null, "values": [0, 0.5, 1, 1.5, 2, 2.5]}},
    "y": {"datum": 0.478, "type": "quantitative", "scale": {"domain": [-0.25, 0.5]}, "axis": {"orient": "right", "labels": false, "title": null, "values": [-0.2, -0.1, 0, 0.1, 0.2, 0.3, 0.4, 0.5]}},
    "text": {"field": "label"}
   }
  }
 ],
 "resolve": {"axis": {"x": "independent", "y": "independent"}}
}
]
}
